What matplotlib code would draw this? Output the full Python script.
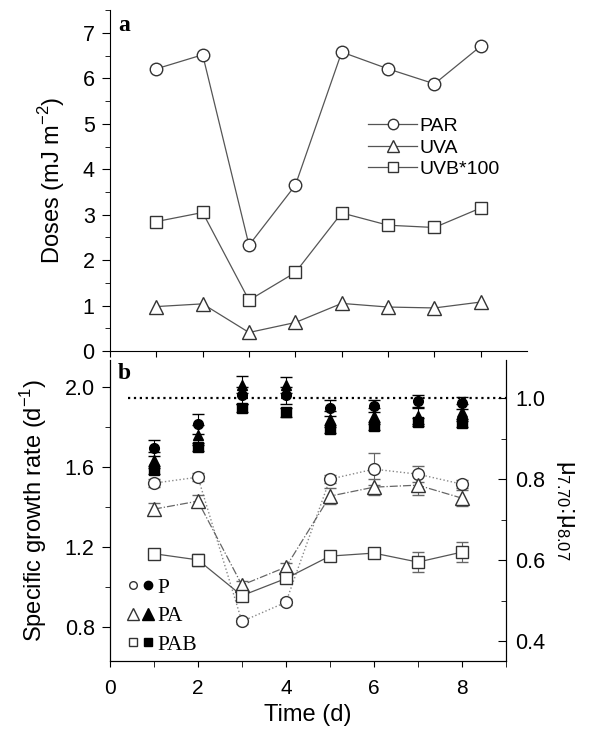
import numpy as np
import matplotlib
matplotlib.use('Agg')
import matplotlib.pyplot as plt
from matplotlib.ticker import MultipleLocator
from matplotlib.legend_handler import HandlerTuple
from matplotlib.lines import Line2D

plt.rcParams['font.family'] = ['Liberation Sans', 'DejaVu Sans']

days = [1, 2, 3, 4, 5, 6, 7, 8]

# panel a: doses
par = [6.21, 6.52, 2.33, 3.65, 6.58, 6.21, 5.88, 6.71]
uva = [0.98, 1.04, 0.41, 0.63, 1.05, 0.97, 0.95, 1.08]
uvb100 = [2.85, 3.05, 1.12, 1.73, 3.04, 2.77, 2.72, 3.15]

# panel b: growth rates (left axis)
mu_p = [1.52, 1.55, 0.828, 0.924, 1.54, 1.59, 1.565, 1.515]
mu_p_err = [0.02, 0.02, 0.015, 0.015, 0.02, 0.08, 0.04, 0.02]
mu_pa = [1.39, 1.43, 1.01, 1.10, 1.455, 1.50, 1.51, 1.445]
mu_pa_err = [0.03, 0.03, 0.02, 0.02, 0.04, 0.04, 0.05, 0.04]
mu_pab = [1.167, 1.136, 0.957, 1.043, 1.155, 1.17, 1.125, 1.175]
mu_pab_err = [0.02, 0.03, 0.02, 0.02, 0.02, 0.02, 0.05, 0.05]

# panel b: ratio mu7.70:mu8.07 (right axis)
r_p = [0.877, 0.936, 1.007, 1.007, 0.977, 0.981, 0.993, 0.989]
r_p_err = [0.02, 0.025, 0.02, 0.02, 0.02, 0.015, 0.015, 0.015]
r_pa = [0.848, 0.910, 1.034, 1.033, 0.948, 0.957, 0.957, 0.965]
r_pa_err = [0.02, 0.025, 0.02, 0.02, 0.02, 0.02, 0.02, 0.02]
r_pab = [0.822, 0.880, 0.977, 0.965, 0.924, 0.932, 0.942, 0.940]
r_pab_err = [0.01, 0.01, 0.01, 0.01, 0.01, 0.01, 0.01, 0.01]

fig = plt.figure(figsize=(5.91, 7.30), dpi=100)
ax1 = fig.add_axes([0.186, 0.519, 0.706, 0.467])
ax2 = fig.add_axes([0.186, 0.0945, 0.670, 0.412])

lc = '#555555'
ec = '#333333'

# ---- panel a ----
ax1.plot(days, par, '-', color=lc, lw=0.9, marker='o', ms=9, mfc='white', mec=ec, mew=1.0, label='PAR')
ax1.plot(days, uva, '-', color=lc, lw=0.9, marker='^', ms=10, mfc='white', mec=ec, mew=1.0, label='UVA')
ax1.plot(days, uvb100, '-', color=lc, lw=0.9, marker='s', ms=8.5, mfc='white', mec=ec, mew=1.0, label='UVB*100')
ax1.set_xlim(0, 9)
ax1.set_ylim(0, 7.5)
for s in ['top', 'right']:
    ax1.spines[s].set_visible(False)
ax1.set_xticks(range(0, 9))
ax1.set_xticklabels([])
ax1.yaxis.set_major_locator(MultipleLocator(1))
ax1.yaxis.set_minor_locator(MultipleLocator(0.5))
ax1.tick_params(axis='y', which='major', length=6, pad=5, labelsize=15.5)
ax1.tick_params(axis='y', which='minor', length=3.5)
ax1.tick_params(axis='x', length=4)
ax1.set_ylabel('Doses (mJ m$^{\\mathregular{-2}}$)', fontsize=17, va='center')
ax1.yaxis.set_label_coords(-0.139, 0.5)
ax1.text(0.02, 0.985, 'a', transform=ax1.transAxes, fontsize=17, fontweight='bold',
         family='Liberation Serif', va='top', ha='left')
leg_handles = [Line2D([], [], color=lc, lw=0.9, marker=m, ms=sz, mfc='white', mec=ec, mew=1.0)
               for m, sz in [('o', 7.5), ('^', 8), ('s', 6.5)]]
ax1.legend(leg_handles, ['PAR', 'UVA', 'UVB*100'], loc='upper left', bbox_to_anchor=(0.619, 0.685),
           frameon=False, fontsize=14, borderpad=0, borderaxespad=0,
           handlelength=2.5, handletextpad=0.15, labelspacing=0.2)

# ---- panel b ----
ax2.plot(days, mu_p, ':', color='#888888', lw=1.0)
ax2.plot(days, mu_pa, '-.', color='#666666', lw=0.9)
ax2.plot(days, mu_pab, '-', color=lc, lw=0.9)
ax2.errorbar(days, mu_p, yerr=mu_p_err, fmt='o', ms=8.5, mfc='white', mec=ec, mew=1.0,
             ecolor='#666666', elinewidth=0.8, capsize=4)
ax2.errorbar(days, mu_pa, yerr=mu_pa_err, fmt='^', ms=9.5, mfc='white', mec=ec, mew=1.0,
             ecolor='#666666', elinewidth=0.8, capsize=4)
ax2.errorbar(days, mu_pab, yerr=mu_pab_err, fmt='s', ms=8, mfc='white', mec=ec, mew=1.0,
             ecolor='#666666', elinewidth=0.8, capsize=4)
ax2.set_xlim(0, 9)
ax2.set_ylim(0.63, 2.135)
ax2.set_xticks([0, 2, 4, 6, 8])
ax2.xaxis.set_minor_locator(MultipleLocator(1))
ax2.yaxis.set_minor_locator(MultipleLocator(0.2))
ax2.tick_params(axis='x', which='both', length=4)
ax2.tick_params(axis='x', which='major', pad=9, labelsize=15)
ax2.tick_params(axis='y', which='major', length=6, pad=5, labelsize=15.5)
ax2.tick_params(axis='y', which='minor', length=3.5)
ax2.set_yticks([0.8, 1.2, 1.6, 2.0])
ax2.set_yticklabels(['0.8', '1.2', '1.6', '2.0'])
ax2.set_xlabel('Time (d)', fontsize=17, va='center')
ax2.xaxis.set_label_coords(0.5, -0.179)
ax2.set_ylabel('Specific growth rate (d$^{\\mathregular{-1}}$)', fontsize=17, va='center')
ax2.yaxis.set_label_coords(-0.194, 0.5)
ax2.spines['top'].set_visible(False)
ax2.text(0.02, 0.99, 'b', transform=ax2.transAxes, fontsize=17, fontweight='bold',
         family='Liberation Serif', va='top', ha='left')

ax3 = ax2.twinx()
ax3.spines['top'].set_visible(False)
ax3.axhline(1.0, xmin=0.045, xmax=1.0, color='black', ls=':', lw=1.6)
ax3.errorbar(days, r_p, yerr=r_p_err, fmt='o', ms=7, color='black', ecolor='black',
             elinewidth=0.8, capsize=4)
ax3.errorbar(days, r_pa, yerr=r_pa_err, fmt='^', ms=7.5, color='black', ecolor='black',
             elinewidth=0.8, capsize=4)
ax3.errorbar(days, r_pab, yerr=r_pab_err, fmt='s', ms=6.5, color='black', ecolor='black',
             elinewidth=0.8, capsize=4)
ax3.set_ylim(0.351, 1.094)
ax3.yaxis.set_minor_locator(MultipleLocator(0.1))
ax3.set_yticks([0.4, 0.6, 0.8, 1.0])
ax3.set_yticklabels(['0.4', '0.6', '0.8', '1.0'])
ax3.tick_params(axis='y', which='major', direction='in', length=6, pad=7, labelsize=15.5)
ax3.tick_params(axis='y', which='minor', direction='in', length=3.5)
ax3.set_ylabel('\u03bc$_{\\mathregular{7.70}}$:\u03bc$_{\\mathregular{8.07}}$', fontsize=17,
               rotation=270, va='center')
ax3.yaxis.set_label_coords(1.149, 0.5)

h_p = (Line2D([], [], marker='o', ls='none', ms=5.5, mfc='white', mec=ec),
       Line2D([], [], marker='o', ls='none', ms=6, color='black'))
h_pa = (Line2D([], [], marker='^', ls='none', ms=8, mfc='white', mec=ec),
        Line2D([], [], marker='^', ls='none', ms=8, color='black'))
h_pab = (Line2D([], [], marker='s', ls='none', ms=5.5, mfc='white', mec=ec),
         Line2D([], [], marker='s', ls='none', ms=5.5, color='black'))
ax2.legend([h_p, h_pa, h_pab], ['P', 'PA', 'PAB'],
           handler_map={tuple: HandlerTuple(ndivide=None, pad=0)},
           loc='lower left', bbox_to_anchor=(0.038, 0.02), frameon=False,
           prop={'family': 'Liberation Serif', 'size': 15.5}, borderpad=0, borderaxespad=0,
           handlelength=1.4, handletextpad=0.1, labelspacing=0.4)

plt.savefig('out.png', dpi=100)
